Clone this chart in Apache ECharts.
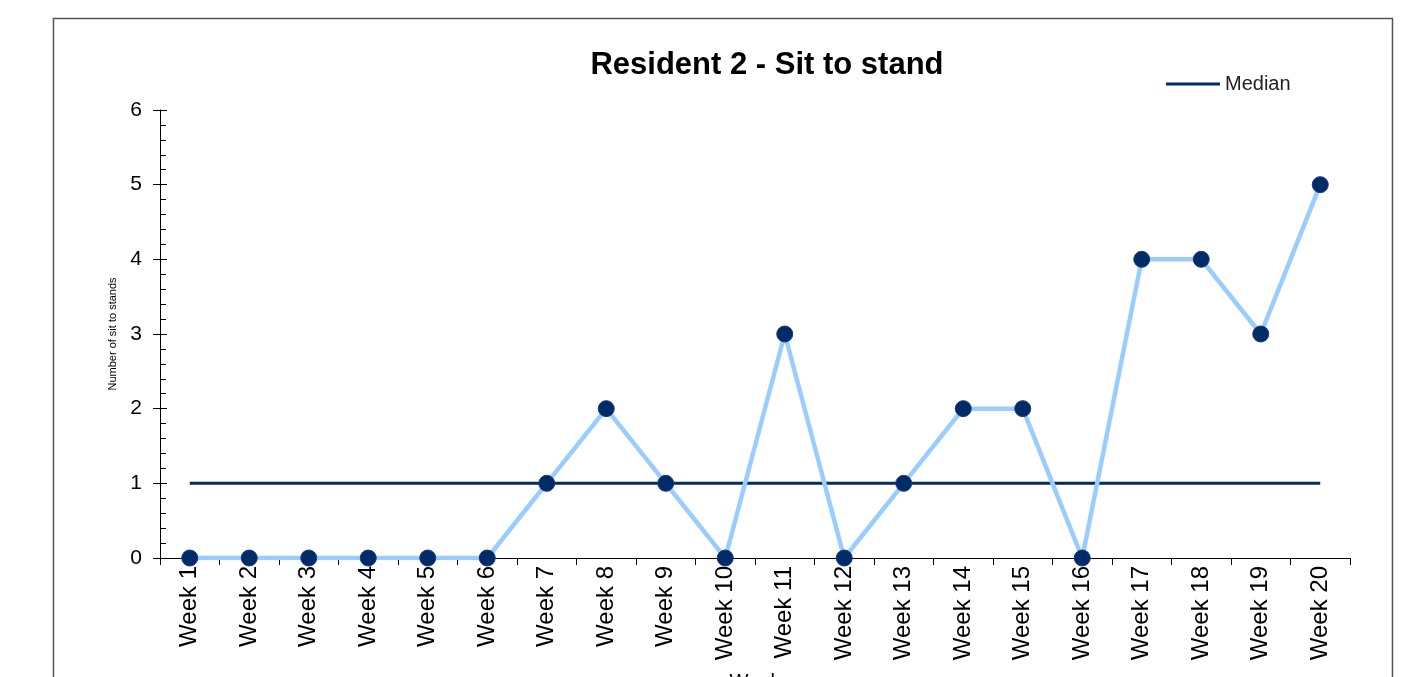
<!DOCTYPE html>
<html><head><meta charset="utf-8">
<script src="https://cdn.jsdelivr.net/npm/echarts@6/dist/echarts.min.js"></script>
<style>html,body{margin:0;padding:0;background:#fff}#c{width:1412px;height:677px}</style>
</head><body><div id="c"></div>
<script>
const categories = ['Week 1','Week 2','Week 3','Week 4','Week 5','Week 6','Week 7','Week 8','Week 9','Week 10','Week 11','Week 12','Week 13','Week 14','Week 15','Week 16','Week 17','Week 18','Week 19','Week 20'];
const sitToStands = [0,0,0,0,0,0,1,2,1,0,3,0,1,2,2,0,4,4,3,5];
const median = [1,1,1,1,1,1,1,1,1,1,1,1,1,1,1,1,1,1,1,1];
const yTicks = [0,1,2,3,4,5,6];

const chart = echarts.init(document.getElementById('c'), null, {renderer:'canvas'});
const font = 'Liberation Sans, Arial, sans-serif';
chart.setOption({
  animation:false,
  textStyle:{fontFamily:font},
  graphic:[{type:'rect',shape:{x:53.5,y:18.5,width:1339,height:700},style:{fill:null,stroke:'#555',lineWidth:1.5},silent:true}],
  title:{text:'Resident 2 - Sit to stand',left:762,top:45,textAlign:'center',
    textStyle:{fontFamily:font,fontSize:31,fontWeight:'bold',color:'#000'}},
  legend:{data:['Median'],left:1166,top:74,padding:0,itemWidth:54,itemHeight:3,itemGap:0,
    icon:'rect',textStyle:{fontFamily:font,fontSize:20,color:'#222'}},
  grid:{left:160,right:62,top:110,bottom:119,containLabel:false,outerBoundsMode:'none'},
  xAxis:{type:'category',data:categories,boundaryGap:true,
    name:'Week',nameLocation:'middle',nameGap:114,nameTextStyle:{fontSize:20,color:'#000'},
    axisLine:{lineStyle:{color:'#000',width:1}},
    axisTick:{show:true,alignWithLabel:false,length:7,lineStyle:{color:'#000'}},
    axisLabel:{rotate:90,fontSize:24,color:'#000',margin:8,interval:0}},
  yAxis:[{type:'value',min:0,max:6,interval:1,
    name:'Number of sit to stands',nameLocation:'middle',nameGap:42,nameRotate:90,
    nameTextStyle:{fontSize:11,color:'#000'},
    axisLine:{show:true,lineStyle:{color:'#000'}},
    axisTick:{show:true,length:7,lineStyle:{color:'#000'}},
    axisLabel:{fontSize:21,color:'#000',margin:18,formatter:v=>yTicks.includes(v)?String(v):''},
    splitLine:{show:false}},
   {type:'value',min:0,max:6,interval:1,position:'left',
    axisLine:{show:false},
    axisTick:{show:true,inside:true,length:7,lineStyle:{color:'#000'}},
    minorTick:{show:true,splitNumber:5,length:6,lineStyle:{color:'#000'}},
    axisLabel:{show:false},splitLine:{show:false}}],
  series:[
    {name:'Sit to stands',type:'line',data:sitToStands,symbol:'circle',symbolSize:16,
      lineStyle:{color:'#99CCFF',width:4.5},itemStyle:{color:'#002B66',borderColor:'#1a3a80',borderWidth:1},z:3},
    {name:'Median',type:'line',data:median,symbol:'none',
      lineStyle:{color:'#002B66',width:3},itemStyle:{color:'#002B66'},z:2}
  ]
});
</script></body></html>
